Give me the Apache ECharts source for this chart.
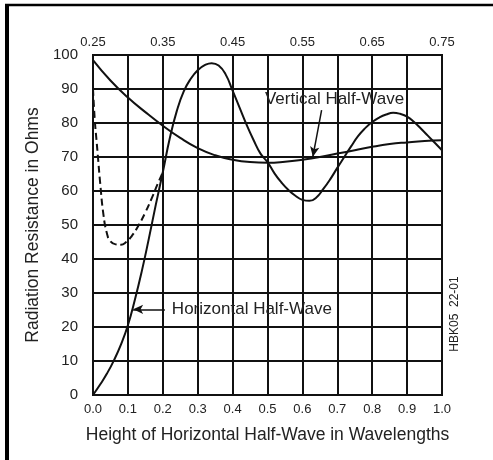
<!DOCTYPE html>
<html>
<head>
<meta charset="utf-8">
<script src="https://cdn.jsdelivr.net/npm/echarts@6/dist/echarts.min.js"></script>
<style>
  html, body { margin: 0; padding: 0; background: #fff; }
  #chart { width: 493px; height: 460px; }
</style>
</head>
<body>
<div id="chart"></div>
<script>
// heights in wavelengths (bottom axis) and labels of the top axis
const bottomLabels = ['0.0', '0.1', '0.2', '0.3', '0.4', '0.5', '0.6', '0.7', '0.8', '0.9', '1.0'];
const topLabels = ['0.25', '0.35', '0.45', '0.55', '0.65', '0.75'];

// horizontal half-wave, solid curve
const horizX = [0, 0.02, 0.04, 0.06, 0.08, 0.1, 0.12, 0.14, 0.16, 0.18, 0.2, 0.22, 0.24, 0.26, 0.28, 0.3,
    0.32, 0.34, 0.36, 0.38, 0.4, 0.42, 0.44, 0.46, 0.48, 0.5, 0.52, 0.54, 0.56, 0.58, 0.6, 0.62, 0.64,
    0.66, 0.68, 0.7, 0.72, 0.74, 0.76, 0.78, 0.8, 0.82, 0.84, 0.86, 0.88, 0.9, 0.92, 0.94, 0.96, 0.98, 1.0];
const horizY = [0, 3, 6.3, 10.2, 14.8, 20.5, 28, 36.5, 46, 56, 65.5, 75.5, 83.5, 89.3, 93, 95.5,
    97, 97.6, 96.9, 94.3, 89.5, 84.5, 79.5, 75, 71, 68.5, 65.2, 62.5, 60.3, 58.6, 57.4, 57.1, 58.1,
    60.6, 63.5, 66.8, 70, 73.2, 76.2, 78.5, 80.3, 81.6, 82.5, 83, 82.7, 81.9, 80.3, 78.3, 76.2, 74.1, 72];

// horizontal half-wave, broken-line part near the ground
const dashX = [0, 0.005, 0.01, 0.015, 0.02, 0.03, 0.04, 0.05, 0.065, 0.08, 0.095, 0.11, 0.13, 0.15, 0.17, 0.185, 0.2];
const dashY = [90, 81, 75, 69, 63, 53, 47.5, 45.2, 44.3, 44.2, 45, 46.6, 49.8, 53.7, 58.3, 62, 65.5];

// vertical half-wave
const vertX = [0, 0.05, 0.1, 0.15, 0.2, 0.25, 0.3, 0.35, 0.4, 0.45, 0.5, 0.55, 0.6, 0.65, 0.7, 0.75, 0.8, 0.85, 0.9, 0.95, 1.0];
const vertY = [98.5, 92.5, 87.5, 83.2, 79.2, 75.6, 72.6, 70.5, 69.2, 68.5, 68.3, 68.6, 69.2, 70, 71, 72, 73, 73.8, 74.3, 74.7, 74.9];

const pairs = (xs, ys) => xs.map((x, i) => [x, ys[i]]);

const chart = echarts.init(document.getElementById('chart'));
const font = '"Liberation Sans", Arial, sans-serif';
const ink = '#111';

const option = {
    animation: false,
    backgroundColor: '#fff',
    grid: {
        left: 93, right: 51, top: 55, bottom: 65,
        show: true, borderColor: ink, borderWidth: 2, backgroundColor: 'transparent'
    },
    xAxis: [{
        type: 'value', min: 0, max: 1, interval: 0.1, position: 'bottom',
        name: 'Height of Horizontal Half-Wave in Wavelengths',
        nameLocation: 'middle', nameGap: 31,
        nameTextStyle: { fontFamily: font, fontSize: 17.5, color: '#222' },
        axisLine: { show: false }, axisTick: { show: false },
        axisLabel: {
            margin: 8, fontFamily: font, fontSize: 13, color: '#222',
            formatter: (v, i) => bottomLabels[i]
        },
        splitLine: { lineStyle: { color: ink, width: 2 } }
    }, {
        type: 'value', min: 0, max: 1, interval: 0.2, position: 'top',
        axisLine: { show: false }, axisTick: { show: false }, splitLine: { show: false },
        axisLabel: {
            margin: 6, fontFamily: font, fontSize: 13, color: '#222',
            formatter: (v, i) => topLabels[i]
        }
    }],
    yAxis: {
        type: 'value', min: 0, max: 100, interval: 10,
        name: 'Radiation Resistance in Ohms',
        nameLocation: 'middle', nameGap: 37,
        nameTextStyle: { fontFamily: font, fontSize: 17.5, color: '#222' },
        axisLine: { show: false }, axisTick: { show: false },
        axisLabel: { margin: 15, fontFamily: font, fontSize: 15, color: '#222' },
        splitLine: { lineStyle: { color: ink, width: 2 } }
    },
    series: [{
        name: 'Vertical Half-Wave',
        type: 'line', smooth: true, symbol: 'none',
        data: pairs(vertX, vertY),
        lineStyle: { color: ink, width: 2 },
        markLine: {
            silent: true, symbol: ['none', 'arrow'], symbolSize: [7, 10],
            lineStyle: { color: ink, width: 1.5, type: 'solid' }, label: { show: false },
            data: [[{ coord: [0.655, 83.8] }, { coord: [0.63, 70.1] }]]
        },
        markPoint: {
            silent: true, symbolSize: 0,
            label: { show: true, position: 'inside', fontFamily: font, fontSize: 17, color: '#222', formatter: '{b}' },
            data: [{ name: 'Vertical Half-Wave', coord: [0.692, 87.1] }]
        }
    }, {
        name: 'Horizontal Half-Wave',
        type: 'line', smooth: true, symbol: 'none',
        data: pairs(horizX, horizY),
        lineStyle: { color: ink, width: 2 },
        markLine: {
            silent: true, symbol: ['none', 'arrow'], symbolSize: [7, 10],
            lineStyle: { color: ink, width: 1.5, type: 'solid' }, label: { show: false },
            data: [[{ coord: [0.206, 25.2] }, { coord: [0.115, 25.2] }]]
        },
        markPoint: {
            silent: true, symbolSize: 0,
            label: { show: true, position: 'right', distance: 0, fontFamily: font, fontSize: 17, color: '#222', formatter: '{b}' },
            data: [{ name: 'Horizontal Half-Wave', coord: [0.226, 25.2] }]
        }
    }, {
        name: 'Horizontal Half-Wave (real ground)',
        type: 'line', smooth: true, symbol: 'none',
        data: pairs(dashX, dashY),
        lineStyle: { color: ink, width: 2, type: [7, 4] }
    }],
    graphic: [
        // frame on the left and top of the figure
        { type: 'line', shape: { x1: 7, y1: 5, x2: 7, y2: 460 }, style: { stroke: '#000', lineWidth: 4 } },
        { type: 'line', shape: { x1: 5, y1: 5, x2: 493, y2: 5 }, style: { stroke: '#000', lineWidth: 2.5 } },
        {
            type: 'text', x: 455, y: 314, rotation: Math.PI / 2,
            style: { text: 'HBK05  22-01', font: '12px ' + font, fill: '#222', textAlign: 'center', textVerticalAlign: 'middle' }
        }
    ]
};

chart.setOption(option);

window.addEventListener('resize', () => {
    chart.resize();
});
</script>
</body>
</html>
